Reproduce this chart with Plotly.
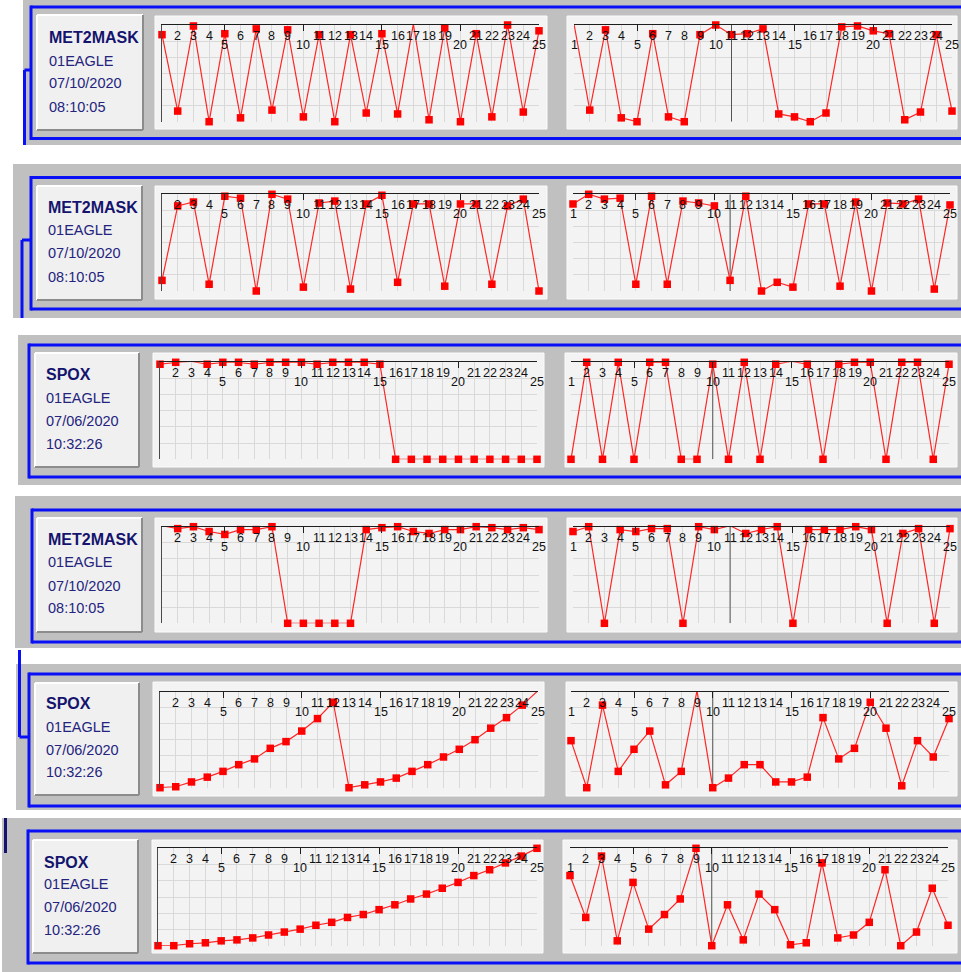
import plotly.graph_objects as go

W, H = 961, 972
FONT = "Liberation Sans, Arial, sans-serif"
GRID = "#d9d9d9"

# ---------------- data ----------------
positions = list(range(1, 26))
tick_labels = [str(i) for i in positions]
lower_labels = [5, 10, 15, 20, 25]

panel_tag = ["MET2MASK", "MET2MASK", "SPOX", "MET2MASK", "SPOX", "SPOX"]
panel_unit = ["01EAGLE", "01EAGLE", "01EAGLE", "01EAGLE", "01EAGLE", "01EAGLE"]
panel_date = ["07/10/2020", "07/10/2020", "07/06/2020", "07/10/2020", "07/06/2020", "07/06/2020"]
panel_time = ["08:10:05", "08:10:05", "10:32:26", "08:10:05", "10:32:26", "10:32:26"]

# values on a 0 (bottom grid line) .. 100 (top axis) scale
p1_left = [90, 11, 99, 0, 91, 4, 96, 12, 95, 5, 90, 0, 90, 9, 91, 8, 101, 2, 97, 0, 91, 5, 100, 10, 94]
p1_right = [101, 12, 95, 4, 0, 91, 5, 0, 90, 100, 90, 91, 96, 8, 5, 0, 9, 98, 99, 94, 91, 2, 10, 90, 11]
p2_left = [11, 88, 92, 7, 98, 96, 0, 100, 95, 4, 91, 93, 2, 90, 99, 9, 90, 90, 5, 90, 90, 7, 88, 95, 0]
p2_right = [90, 100, 95, 96, 7, 98, 7, 93, 91, 88, 11, 98, 0, 9, 4, 90, 90, 5, 92, 0, 91, 90, 95, 2, 89]
p3_left = [98, 100, 101, 98, 100, 100, 98, 100, 100, 100, 98, 100, 100, 100, 98, 0, 0, 0, 0, 0, 0, 0, 0, 0, 0]
p3_right = [0, 100, 0, 100, 0, 100, 100, 0, 0, 98, 0, 100, 0, 98, 101, 98, 0, 98, 100, 100, 0, 100, 100, 0, 98]
p4_left = [101, 98, 100, 95, 92, 97, 97, 100, 0, 0, 0, 0, 0, 97, 99, 100, 95, 93, 97, 97, 100, 99, 97, 99, 97]
p4_right = [95, 100, 0, 97, 95, 98, 98, 0, 100, 97, 101, 93, 97, 100, 0, 97, 97, 97, 100, 97, 0, 93, 98, 0, 98]
p5_left = [0, 1, 6, 11, 17, 24, 30, 41, 48, 59, 72, 89, 0, 3, 6, 10, 17, 24, 32, 40, 50, 62, 73, 86, 101]
p5_right = [49, 0, 86, 17, 40, 59, 3, 17, 101, 0, 10, 24, 24, 6, 6, 11, 73, 30, 41, 89, 62, 2, 49, 32, 72]
p6_left = [0, 0, 2, 3, 5, 6, 8, 11, 14, 17, 21, 24, 29, 32, 37, 42, 48, 53, 59, 65, 72, 78, 85, 92, 100]
p6_right = [72, 29, 92, 5, 65, 17, 32, 48, 100, 0, 42, 6, 53, 37, 1, 3, 85, 8, 11, 24, 78, 0, 14, 59, 21]

series = [(p1_left, p1_right), (p2_left, p2_right), (p3_left, p3_right),
          (p4_left, p4_right), (p5_left, p5_right), (p6_left, p6_right)]
split_index = [11, 11, 10, 11, 10, 10]

# ---------------- layout geometry (pixels) ----------------
panels = [
    dict(gray=(23, 0, 961, 145), blue=(31, 7, 963, 138.5), label=(37, 15, 143, 130),
         tx=47, ty=(37, 61, 83, 107),
         boxes=[(155, 16, 547, 129), (567, 16, 957, 129)],
         plots=[(162, 25, 539, 121.7), (574, 25, 952, 121.7)]),
    dict(gray=(13, 164, 961, 318), blue=(31, 177.5, 963, 309), label=(37, 186, 142, 300),
         tx=46, ty=(207, 230, 253, 277),
         boxes=[(155, 186, 547, 299), (567, 186, 957, 299)],
         plots=[(162, 194.3, 539, 291), (573, 194.3, 950, 291)]),
    dict(gray=(18, 335, 961, 485), blue=(29, 345, 963, 477), label=(35, 353, 139, 467),
         tx=44, ty=(375, 398, 421, 444),
         boxes=[(153, 353, 544, 467), (565, 353, 957, 467)],
         plots=[(160, 362.3, 537, 459.3), (571, 362.3, 949, 459.3)]),
    dict(gray=(15, 496, 961, 648), blue=(32, 510, 963, 642), label=(37, 518, 142, 632),
         tx=46, ty=(539, 562, 586, 608),
         boxes=[(155, 518, 547, 632), (567, 518, 957, 632)],
         plots=[(162, 526.7, 539, 623.3), (573, 526.7, 950, 623.3)]),
    dict(gray=(16, 664, 961, 810), blue=(29, 674, 963, 806), label=(35, 683, 139, 795),
         tx=44, ty=(703, 727, 750, 772),
         boxes=[(153, 682, 544, 796), (566, 682, 957, 796)],
         plots=[(160, 691.7, 538, 787.7), (571, 691.7, 949, 787.7)]),
    dict(gray=(2, 818, 961, 972), blue=(28, 831, 963, 963), label=(33, 840, 138, 953),
         tx=42, ty=(862, 884, 907, 930),
         boxes=[(152, 840, 543, 953), (563, 840, 957, 953)],
         plots=[(158, 848.3, 537, 945.7), (570, 848.3, 948, 945.7)]),
]


def fx(x):
    return x / W


def fy(y):
    return 1 - y / H


shapes = []
annotations = []


def rect(x0, y0, x1, y1, fill=None, line=None, lw=0, layer="below"):
    shapes.append(dict(type="rect", xref="paper", yref="paper",
                       x0=fx(x0), x1=fx(x1), y0=fy(y1), y1=fy(y0),
                       fillcolor=fill or "rgba(0,0,0,0)",
                       line=dict(color=line or "rgba(0,0,0,0)", width=lw),
                       layer=layer))


def seg(x0, y0, x1, y1, color, lw, layer="below"):
    shapes.append(dict(type="line", xref="paper", yref="paper",
                       x0=fx(x0), x1=fx(x1), y0=fy(y0), y1=fy(y1),
                       line=dict(color=color, width=lw), layer=layer))


BLUE = "#0a10f5"
# gray backgrounds
for g in panels:
    rect(*g["gray"], fill="#c0c0c0")
# connectors / decorations
seg(24.5, 145, 24.5, 70, BLUE, 3)
seg(24.5, 70, 31, 70, BLUE, 3)
seg(22, 318, 22, 240, BLUE, 3)
seg(22, 240, 31, 240, BLUE, 3)
seg(19.5, 650, 19.5, 737, BLUE, 3)
seg(19.5, 737, 29, 737, BLUE, 3)
rect(4, 818, 7, 853, fill="#14146e")

fig = go.Figure()
axes = {}

for p, g in enumerate(panels):
    bx0, by0, bx1, by1 = g["blue"]
    seg(bx0, by0, 961, by0, BLUE, 3)
    seg(bx0, by1, 961, by1, BLUE, 3)
    seg(bx0, by0 - 1.5, bx0, by1 + 1.5, BLUE, 3)
    lx0, ly0, lx1, ly1 = g["label"]
    rect(lx0, ly0, lx1, ly1, fill="#f0f0f0")
    seg(lx0, ly0, lx1, ly0, "#ffffff", 2)
    seg(lx0, ly0, lx0, ly1, "#ffffff", 2)
    seg(lx0, ly1, lx1, ly1, "#8c8c8c", 2)
    seg(lx1, ly0, lx1, ly1, "#8c8c8c", 2)

    texts = [panel_tag[p], panel_unit[p], panel_date[p], panel_time[p]]
    for i, (t, yy) in enumerate(zip(texts, g["ty"])):
        annotations.append(dict(
            x=fx(g["tx"]), y=fy(yy), xref="paper", yref="paper",
            text=f"<b>{t}</b>" if i == 0 else t,
            showarrow=False, xanchor="left", yanchor="middle",
            font=dict(family=FONT, size=16 if i == 0 else 14.5,
                      color="#14146e" if i == 0 else "#24247e")))

    for side in (0, 1):
        k = 2 * p + side + 1
        xa = "x" if k == 1 else f"x{k}"
        ya = "y" if k == 1 else f"y{k}"
        suffix = "" if k == 1 else str(k)
        rect(*g["boxes"][side], fill="#f3f3f3", line="#fbfbfb", lw=1)
        x0, y0, x1, y1 = g["plots"][side]
        axes["xaxis" + suffix] = dict(
            domain=[fx(x0), fx(x1)], range=[1, 25], anchor=ya, side="top",
            showline=True, linecolor="#1e1e1e", linewidth=1,
            ticks="inside", ticklen=6, tickcolor="#1e1e1e", tickwidth=1,
            tickmode="array", tickvals=[1] + lower_labels, showticklabels=False,
            showgrid=True, gridcolor=GRID, gridwidth=1,
            minor=dict(tickmode="linear", tick0=1, dtick=1, showgrid=True,
                       gridcolor=GRID, gridwidth=1, ticks=""),
            zeroline=False, fixedrange=True)
        axes["yaxis" + suffix] = dict(
            domain=[fy(y1), fy(y0)], range=[0, 100], anchor=xa,
            showline=(side == 0), linecolor="#4a4a4a", linewidth=1,
            ticks="", showticklabels=False, showgrid=True, gridcolor=GRID,
            gridwidth=1, tickmode="linear", tick0=0, dtick=100 / 6,
            zeroline=False, fixedrange=True)

        if side == 1:
            fig.add_trace(go.Scatter(
                x=[split_index[p], split_index[p]], y=[0, 100], mode="lines",
                xaxis=xa, yaxis=ya, line=dict(color="#555555", width=1),
                showlegend=False, hoverinfo="skip"))

        vals = series[p][side]
        fig.add_trace(go.Scatter(
            x=positions, y=vals, mode="lines+markers", xaxis=xa, yaxis=ya,
            line=dict(color="#ff2626", width=1.2),
            marker=dict(symbol="square", size=7.5, color="#ff0000",
                        line=dict(width=0)),
            cliponaxis=False, showlegend=False, hoverinfo="skip"))

        for pos, lab in zip(positions, tick_labels):
            if side == 0 and pos == 1:
                continue
            lower = pos in lower_labels or pos == 1
            annotations.append(dict(
                x=pos, y=1, xref=xa, yref=f"{ya} domain", text=lab,
                showarrow=False, xanchor="center", yanchor="middle",
                yshift=-20 if lower else -11,
                font=dict(family=FONT, size=12.5, color="#111111")))

fig.update_layout(
    width=W, height=H, margin=dict(l=0, r=0, t=0, b=0),
    paper_bgcolor="#ffffff", plot_bgcolor="rgba(0,0,0,0)",
    shapes=shapes, annotations=annotations, showlegend=False,
    **axes)

fig.write_html("out.html", config={"displayModeBar": False},
               post_script="document.body.style.margin='0';document.body.style.padding='0';")
